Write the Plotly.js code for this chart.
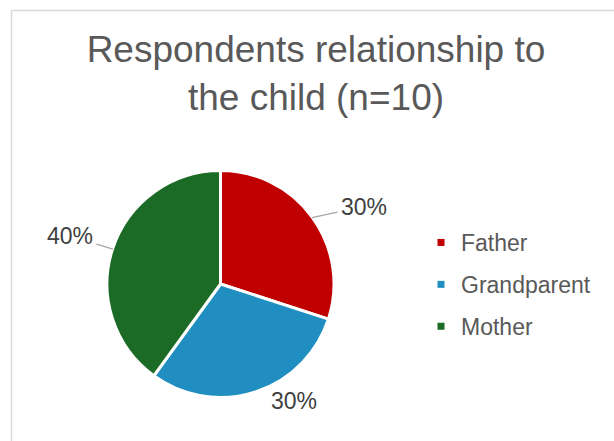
<!DOCTYPE html>
<html>
<head>
<meta charset="utf-8">
<script src="https://cdn.plot.ly/plotly-3.0.1.min.js"></script>
<style>html,body{margin:0;padding:0;background:#fff;}#chart{width:614px;height:441px;}</style>
</head>
<body>
<div id="chart"></div>
<script>
// ---- data ----
const categories = ["Father", "Grandparent", "Mother"];
const counts = [3, 3, 4];
const sliceColors = ["#C00000", "#208EC0", "#1B6B27"];
const chartTitle = "Respondents relationship to<br>the child (n=10)";

// ---- layout constants (pixels) ----
const W = 614, H = 441;
const CX = 220.5, CY = 284, R = 113.5;
const labelOffsets = [[52, -11], [39, 10], [-43, -13]];   // text centre offset from slice edge
const labelArrows = [true, false, true];
const FONT = "Liberation Sans, Arial, sans-serif";

const total = counts.reduce((a, b) => a + b, 0);
const px2x = p => p / W;
const py2y = p => 1 - p / H;

// label annotations at the middle angle of each slice (clockwise from 12 o'clock)
const annotations = [];
let cum = 0;
counts.forEach((v, i) => {
  const mid = (cum + v / 2) / total * 2 * Math.PI;
  cum += v;
  const tipX = CX + (R - 0.5) * Math.sin(mid);
  const tipY = CY - (R - 0.5) * Math.cos(mid);
  const [ox, oy] = labelOffsets[i];
  const pct = Math.round(v / total * 100) + "%";
  if (labelArrows[i]) {
    annotations.push({
      xref: "paper", yref: "paper", x: px2x(tipX), y: py2y(tipY),
      ax: ox, ay: oy, axref: "pixel", ayref: "pixel",
      text: pct, showarrow: true, arrowhead: 0, arrowwidth: 1.3, arrowcolor: "#A6A6A6",
      standoff: 0, startstandoff: 2,
      font: {family: FONT, size: 23, color: "#404040"}
    });
  } else {
    annotations.push({
      xref: "paper", yref: "paper", x: px2x(tipX + ox), y: py2y(tipY + oy),
      xanchor: "center", yanchor: "middle",
      text: pct, showarrow: false,
      font: {family: FONT, size: 23, color: "#404040"}
    });
  }
});

const pieTrace = {
  type: "pie",
  labels: categories,
  values: counts,
  sort: false,
  direction: "clockwise",
  rotation: 0,
  textinfo: "none",
  hoverinfo: "none",
  showlegend: false,
  marker: {colors: sliceColors, line: {color: "#FFFFFF", width: 3}},
  domain: {x: [px2x(CX - R), px2x(CX + R)], y: [py2y(CY + R), py2y(CY - R)]}
};

// legend entries (square markers), one group each for spacing
const legendTraces = categories.map((c, i) => ({
  type: "scatter", mode: "markers",
  x: [0], y: [0],
  name: c,
  legendgroup: "g" + i,
  hoverinfo: "none",
  marker: {symbol: "square", size: 7, color: sliceColors[i]},
  showlegend: true
}));

const layout = {
  width: W, height: H,
  margin: {l: 0, r: 0, t: 0, b: 0},
  paper_bgcolor: "#FFFFFF",
  plot_bgcolor: "rgba(0,0,0,0)",
  title: {
    text: chartTitle,
    font: {family: FONT, size: 37, color: "#595959"},
    x: px2x(316), xanchor: "center", xref: "paper",
    y: py2y(62), yanchor: "top", yref: "container"
  },
  xaxis: {visible: false, range: [10, 11], fixedrange: true},
  yaxis: {visible: false, range: [10, 11], fixedrange: true},
  showlegend: true,
  legend: {
    x: px2x(421), xanchor: "left",
    y: py2y(221), yanchor: "top",
    font: {family: FONT, size: 23, color: "#595959"},
    tracegroupgap: 9,
    bgcolor: "rgba(0,0,0,0)",
    borderwidth: 0
  },
  annotations: annotations,
  shapes: [{
    type: "rect", xref: "paper", yref: "paper",
    x0: px2x(11.5), x1: 1.2, y0: -0.2, y1: py2y(10.5),
    line: {color: "#D9D9D9", width: 1.5}, fillcolor: "rgba(0,0,0,0)", layer: "below"
  }]
};

Plotly.newPlot("chart", [pieTrace].concat(legendTraces), layout, {staticPlot: true, displayModeBar: false});
</script>
</body>
</html>
